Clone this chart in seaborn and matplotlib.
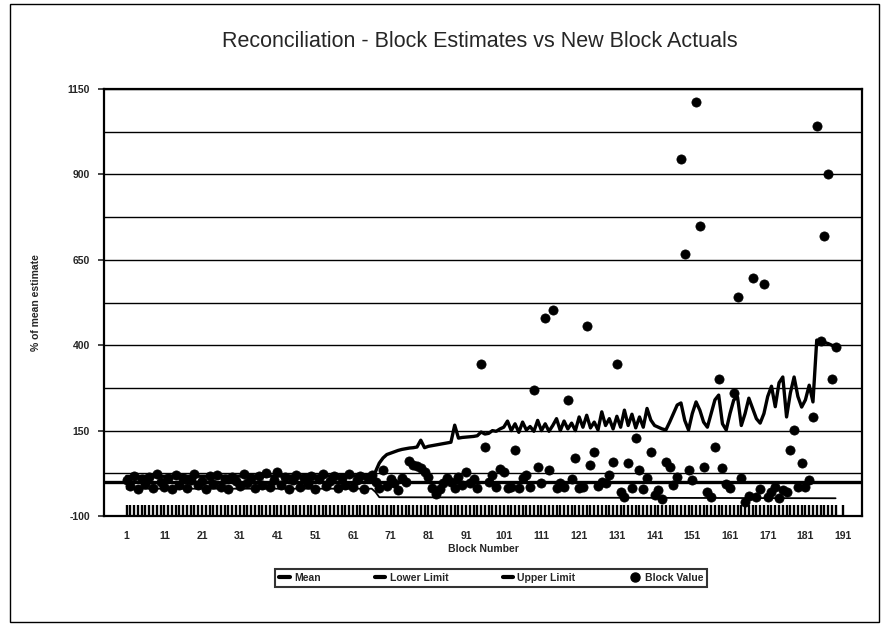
import numpy as np
import matplotlib
matplotlib.use("Agg")
import matplotlib.pyplot as plt
import seaborn as sns
import pandas as pd
from matplotlib.patches import Rectangle
from matplotlib.lines import Line2D

# ---- data ----
blocks = np.arange(1, 190)

block_value = [
    5, -12, 18, -20, 8, -5, 15, -18, 22, 0,
    -15, 10, -22, 20, -8, 12, -18, 6, 24, -10,
    3, -20, 16, -6, 20, -14, 8, -22, 14, 2,
    -12, 22, -4, 10, -18, 18, -8, 25, -16, 6,
    28, -10, 14, -22, 4, 20, -14, 10, -6, 18,
    -20, 8, 24, -12, 2, 16, -18, 12, -8, 22,
    -15, 6, 18, -22, 10, 20, 0, -18, 35, -12,
    8, -3, -23, 12, 0, 62, 49, 45, 40, 29,
    14, -18, -35, -20, -3, 10, 0, -18, 15, -8,
    29, -3, 8, -18, 345, 102, 0, 20, -15, 38,
    29, -18, -15, 93, -18, 11, 20, -15, 269, 43,
    -3, 480, 35, 503, -18, -3, -15, 240, 8, 70,
    -18, -15, 456, 49, 87, -12, 0, -3, 20, 58,
    345, -30, -44, 55, -18, 128, 35, -20, 10, 87,
    -39, -24, -50, 58, 43, -10, 15, 945, 667, 35,
    5, 1112, 749, 43, -30, -44, 102, 301, 40, -5,
    -18, 260, 541, 10, -59, -40, 597, -44, -20, 579,
    -44, -30, -15, -47, -24, -30, 93, 152, -15, 55,
    -15, 5, 190, 1042, 412, 720, 901, 301, 395,
]

upper_blocks = [1, 66] + list(range(67, 190))
upper_limit = [16, 18] + [
    30, 55, 70, 80, 84, 88, 92, 95, 97, 99,
    100, 102, 122, 100, 104, 106, 108, 110, 112, 114,
    116, 166, 128, 130, 131, 132, 133, 135, 146, 140,
    142, 150, 148, 155, 160, 178, 150, 170, 145, 175,
    152, 162, 148, 180, 150, 170, 148, 165, 185, 150,
    178, 155, 172, 150, 190, 160, 195, 158, 175, 152,
    205, 165, 185, 155, 192, 160, 210, 165, 198, 158,
    190, 160, 215, 181, 165, 160, 155, 152, 175, 200,
    225, 231, 180, 152, 200, 234, 210, 175, 160, 200,
    240, 254, 170, 152, 200, 240, 248, 165, 200, 245,
    215, 185, 172, 200, 250, 280, 220, 290, 307, 190,
    260, 307, 250, 219, 240, 283, 234, 415, 410, 408,
    405, 400, 395,
]

lower_blocks = [1, 66, 67, 68, 189]
lower_limit = [-20, -20, -30, -45, -48]

mean_pct = 0

x_tick_labels = list(range(1, 192, 10))
y_major = [-100, 150, 400, 650, 900, 1150]
y_minor = [-100, 25, 150, 275, 400, 525, 650, 775, 900, 1025, 1150]

# ---- drawing ----
sns.set_style("white")
plt.rcParams["font.family"] = ["Liberation Sans", "DejaVu Sans"]

fig = plt.figure(figsize=(8.85, 6.26), dpi=100)
ax = fig.add_axes([0.1175, 0.1757, 0.8565, 0.682])

for yv in y_minor:
    ax.axhline(yv, color="black", lw=1.0, zorder=1)

ax.axhline(mean_pct, color="black", lw=2.4, zorder=3)

upper_df = pd.DataFrame({"block": upper_blocks, "pct": upper_limit})
lower_df = pd.DataFrame({"block": lower_blocks, "pct": lower_limit})
vals_df = pd.DataFrame({"block": blocks, "pct": block_value})

sns.lineplot(data=upper_df, x="block", y="pct", color="black", lw=2.4,
             estimator=None, ax=ax, zorder=4)
sns.lineplot(data=lower_df, x="block", y="pct", color="black", lw=1.3,
             estimator=None, ax=ax, zorder=4)
sns.scatterplot(data=vals_df, x="block", y="pct", color="black", s=44,
                edgecolor="black", linewidth=0.5, ax=ax, zorder=5)

ax.set_xlim(-5, 196)
ax.set_ylim(-100, 1150)
ax.set_yticks(y_major)
ax.set_yticklabels([str(v) for v in y_major])
ax.set_xticks(x_tick_labels)
ax.set_xticklabels([str(v) for v in x_tick_labels])
ax.set_xticks(blocks, minor=True)

ax.tick_params(axis="x", which="both", bottom=True, direction="in", length=8,
               width=1.7, color="black", pad=11)
ax.tick_params(axis="x", which="major", labelsize=7.5)
ax.tick_params(axis="y", which="major", left=True, direction="out", length=4,
               width=1.2, labelsize=7.5, pad=6)
for lab in ax.get_xticklabels() + ax.get_yticklabels():
    lab.set_fontweight("bold")

for sp in ax.spines.values():
    sp.set_color("black")
    sp.set_linewidth(1.6)

ax.set_xlabel("Block Number", fontsize=7.5, fontweight="bold", labelpad=2)
ax.set_ylabel("% of mean estimate", fontsize=7.5, fontweight="bold", labelpad=19)

fig.text(0.542, 0.933, "Reconciliation - Block Estimates vs New Block Actuals",
         ha="center", va="center", fontsize=15.5)

handles = [
    Line2D([], [], color="black", lw=3),
    Line2D([], [], color="black", lw=3),
    Line2D([], [], color="black", lw=3),
    Line2D([], [], color="black", marker="o", ls="none", markersize=6.5),
]
labels = ["Mean", "Lower Limit", "Upper Limit", "Block Value"]
leg = fig.legend(handles, labels, loc="center", ncol=4, mode="expand",
                 bbox_to_anchor=(0.305, 0.054, 0.5, 0.046), frameon=True,
                 fancybox=False, handlelength=1.0, handletextpad=0.4,
                 borderpad=0.4, prop={"size": 7.5, "weight": "bold"})
leg.get_frame().set_edgecolor("black")
leg.get_frame().set_linewidth(1.5)

fig.patches.append(Rectangle((10 / 885, 4 / 626), 869 / 885, 618 / 626,
                             transform=fig.transFigure, fill=False,
                             edgecolor="black", lw=1.0))

fig.savefig("out.png", dpi=100)
